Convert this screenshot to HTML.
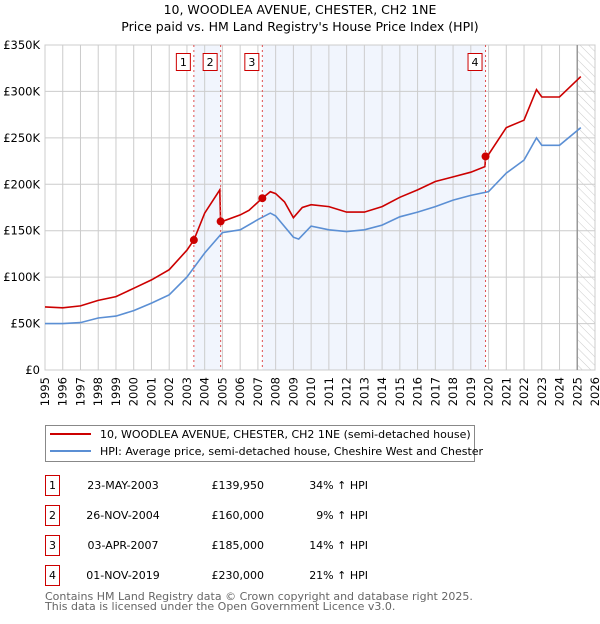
<!DOCTYPE html>
<html><head><meta charset="utf-8"><style>
body{margin:0;background:#fff;font-family:"DejaVu Sans","Liberation Sans",sans-serif;}
svg text{font-family:"DejaVu Sans","Liberation Sans",sans-serif;}
</style></head><body>
<svg id="chart" width="600" height="620" xmlns="http://www.w3.org/2000/svg">
<defs><pattern id="hatch" width="6" height="6" patternUnits="userSpaceOnUse" patternTransform="rotate(-45)"><line x1="0" y1="0" x2="0" y2="6" stroke="#ccc" stroke-width="1"/></pattern></defs>
<text x="300" y="14" text-anchor="middle" font-size="12.5">10, WOODLEA AVENUE, CHESTER, CH2 1NE</text>
<text x="300" y="31" text-anchor="middle" font-size="12.5">Price paid vs. HM Land Registry's House Price Index (HPI)</text>
<g id="bg"></g><g id="grid"></g><g id="lines"></g><g id="marks"></g><g id="axes"></g>
<rect x="45.5" y="425.5" width="429" height="36" fill="#fff" stroke="#888"/>
<line x1="50" y1="434" x2="91" y2="434" stroke="#cc0000" stroke-width="2"/>
<text x="100" y="438" font-size="11">10, WOODLEA AVENUE, CHESTER, CH2 1NE (semi-detached house)</text>
<line x1="50" y1="451" x2="91" y2="451" stroke="#5b8fd4" stroke-width="2"/>
<text x="100" y="455" font-size="11">HPI: Average price, semi-detached house, Cheshire West and Chester</text>
<g id="table" font-size="11"></g>
<text x="45" y="600" font-size="11" fill="#666">Contains HM Land Registry data © Crown copyright and database right 2025.</text>
<text x="45" y="610" font-size="11" fill="#666">This data is licensed under the Open Government Licence v3.0.</text>
</svg>
<script>
const hpiYears=[1995,1996,1997,1998,1999,2000,2001,2002,2003,2004,2005,2006,2007,2007.7,2008,2009,2009.3,2010,2011,2012,2013,2014,2015,2016,2017,2018,2019,2020,2021,2022,2022.7,2023,2024,2025.2];
const hpiValues=[50,50,51,56,58,64,72,81,100,126,148,151,162,169,166,143,141,155,151,149,151,156,165,170,176,183,188,192,212,226,250,242,242,261];
const propYears=[1995,1996,1997,1998,1999,2000,2001,2002,2003,2003.39,2004,2004.85,2004.9,2005,2006,2006.5,2007.25,2007.7,2008,2008.5,2009,2009.5,2010,2011,2012,2013,2014,2015,2016,2017,2018,2019,2019.8,2019.83,2020,2021,2022,2022.7,2023,2024,2025.2];
const propValues=[68,67,69,75,79,88,97,108,129,139.95,169,194,160,160,167,172,185,192,190,181,164,175,178,176,170,170,176,186,194,203,208,213,219,230,232,261,269,302,294,294,316];
const saleLabels=["1","2","3","4"];
const saleYears=[2003.39,2004.9,2007.25,2019.83];
const salePrices=[139.95,160,185,230];
const saleDates=["23-MAY-2003","26-NOV-2004","03-APR-2007","01-NOV-2019"];
const salePriceText=["£139,950","£160,000","£185,000","£230,000"];
const saleHpiText=["34% ↑ HPI","9% ↑ HPI","14% ↑ HPI","21% ↑ HPI"];
const yTicks=[0,50,100,150,200,250,300,350];
const xTicks=[1995,1996,1997,1998,1999,2000,2001,2002,2003,2004,2005,2006,2007,2008,2009,2010,2011,2012,2013,2014,2015,2016,2017,2018,2019,2020,2021,2022,2023,2024,2025,2026];
const NS="http://www.w3.org/2000/svg";
const X0=45,X1=595,Y0=370,Y1=45;
const x=v=>X0+(v-1995)*(X1-X0)/31;
const y=v=>Y0-v*(Y0-Y1)/350;
function mk(p,tag,at){const e=document.createElementNS(NS,tag);for(const k in at)e.setAttribute(k,at[k]);p.appendChild(e);return e;}
const bg=document.getElementById('bg'),grid=document.getElementById('grid'),lines=document.getElementById('lines'),marks=document.getElementById('marks'),axes=document.getElementById('axes'),table=document.getElementById('table');
let r=mk(bg,'rect',{x:X0,y:Y1,width:X1-X0,height:Y0-Y1,fill:'#fff'});


r=mk(bg,'rect',{x:x(saleYears[0]),y:Y1,width:x(saleYears[1])-x(saleYears[0]),height:Y0-Y1,fill:'#eef3fc',opacity:0.8});


r=mk(bg,'rect',{x:x(saleYears[2]),y:Y1,width:x(saleYears[3])-x(saleYears[2]),height:Y0-Y1,fill:'#eef3fc',opacity:0.8});


r=mk(bg,'rect',{x:x(2025),y:Y1,width:X1-x(2025),height:Y0-Y1,fill:'url(#hatch)'});


yTicks.forEach(t=>{
 const l=mk(grid,'line',{x1:X0,x2:X1,y1:y(t),y2:y(t),stroke:'#ccc'});
 
 
 const tx=mk(axes,'text',{x:40,y:y(t)+4,'text-anchor':'end','font-size':11.5});
 
 
 tx.textContent=t===0?'£0':'£'+t+'K';
});
xTicks.forEach(t=>{
 const l=mk(grid,'line',{x1:x(t),x2:x(t),y1:Y1,y2:Y0,stroke:'#ccc'});
 
 
 const xx=x(t)+4,yy=377;
 const tx=mk(axes,'text',{x:xx,y:yy,'text-anchor':'end','font-size':11.5,transform:`rotate(-90 ${xx} ${yy})`});
 
 
 tx.textContent=t;
});
let b=mk(grid,'rect',{x:X0,y:Y1,width:X1-X0,height:Y0-Y1,fill:'none',stroke:'#ccc'});


let nl=mk(grid,'line',{x1:x(2025),x2:x(2025),y1:Y1,y2:Y0,stroke:'#999','stroke-width':1.5});


const pts=(xs,vs)=>xs.map((v,i)=>x(v).toFixed(1)+','+y(vs[i]).toFixed(1)).join(' ');
let p=mk(lines,'polyline',{points:pts(hpiYears,hpiValues),fill:'none',stroke:'#5b8fd4','stroke-width':1.6});


p=mk(lines,'polyline',{points:pts(propYears,propValues),fill:'none',stroke:'#cc0000','stroke-width':1.6});


saleYears.forEach((sy,i)=>{
 const l=mk(marks,'line',{x1:x(sy),x2:x(sy),y1:Y1,y2:Y0,stroke:'#e05050','stroke-dasharray':'2,3'});
 
 
 const c=mk(marks,'circle',{cx:x(sy),cy:y(salePrices[i]),r:4,fill:'#cc0000'});
 
 
 const bx=mk(marks,'rect',{x:x(sy)-17.5,y:53.5,width:14,height:17,fill:'#fff',stroke:'#cc0000'});
 
 
 const t=mk(marks,'text',{x:x(sy)-10.5,y:66,'text-anchor':'middle','font-size':11});
 
 
 t.textContent=saleLabels[i];
 const ry=475+i*30;
 const tb=mk(table,'rect',{x:45.5,y:ry+0.5,width:14,height:20,fill:'#fff',stroke:'#cc0000'});
 
 
 const tn=mk(table,'text',{x:52.5,y:ry+14,'text-anchor':'middle'});
 
 
 tn.textContent=saleLabels[i];
 const td=mk(table,'text',{x:123,y:ry+14,'text-anchor':'middle'});
 
 
 td.textContent=saleDates[i];
 const tp=mk(table,'text',{x:264,y:ry+14,'text-anchor':'end'});
 
 
 tp.textContent=salePriceText[i];
 const th=mk(table,'text',{x:368,y:ry+14,'text-anchor':'end'});
 
 
 th.textContent=saleHpiText[i];
});
</script>
</body></html>
